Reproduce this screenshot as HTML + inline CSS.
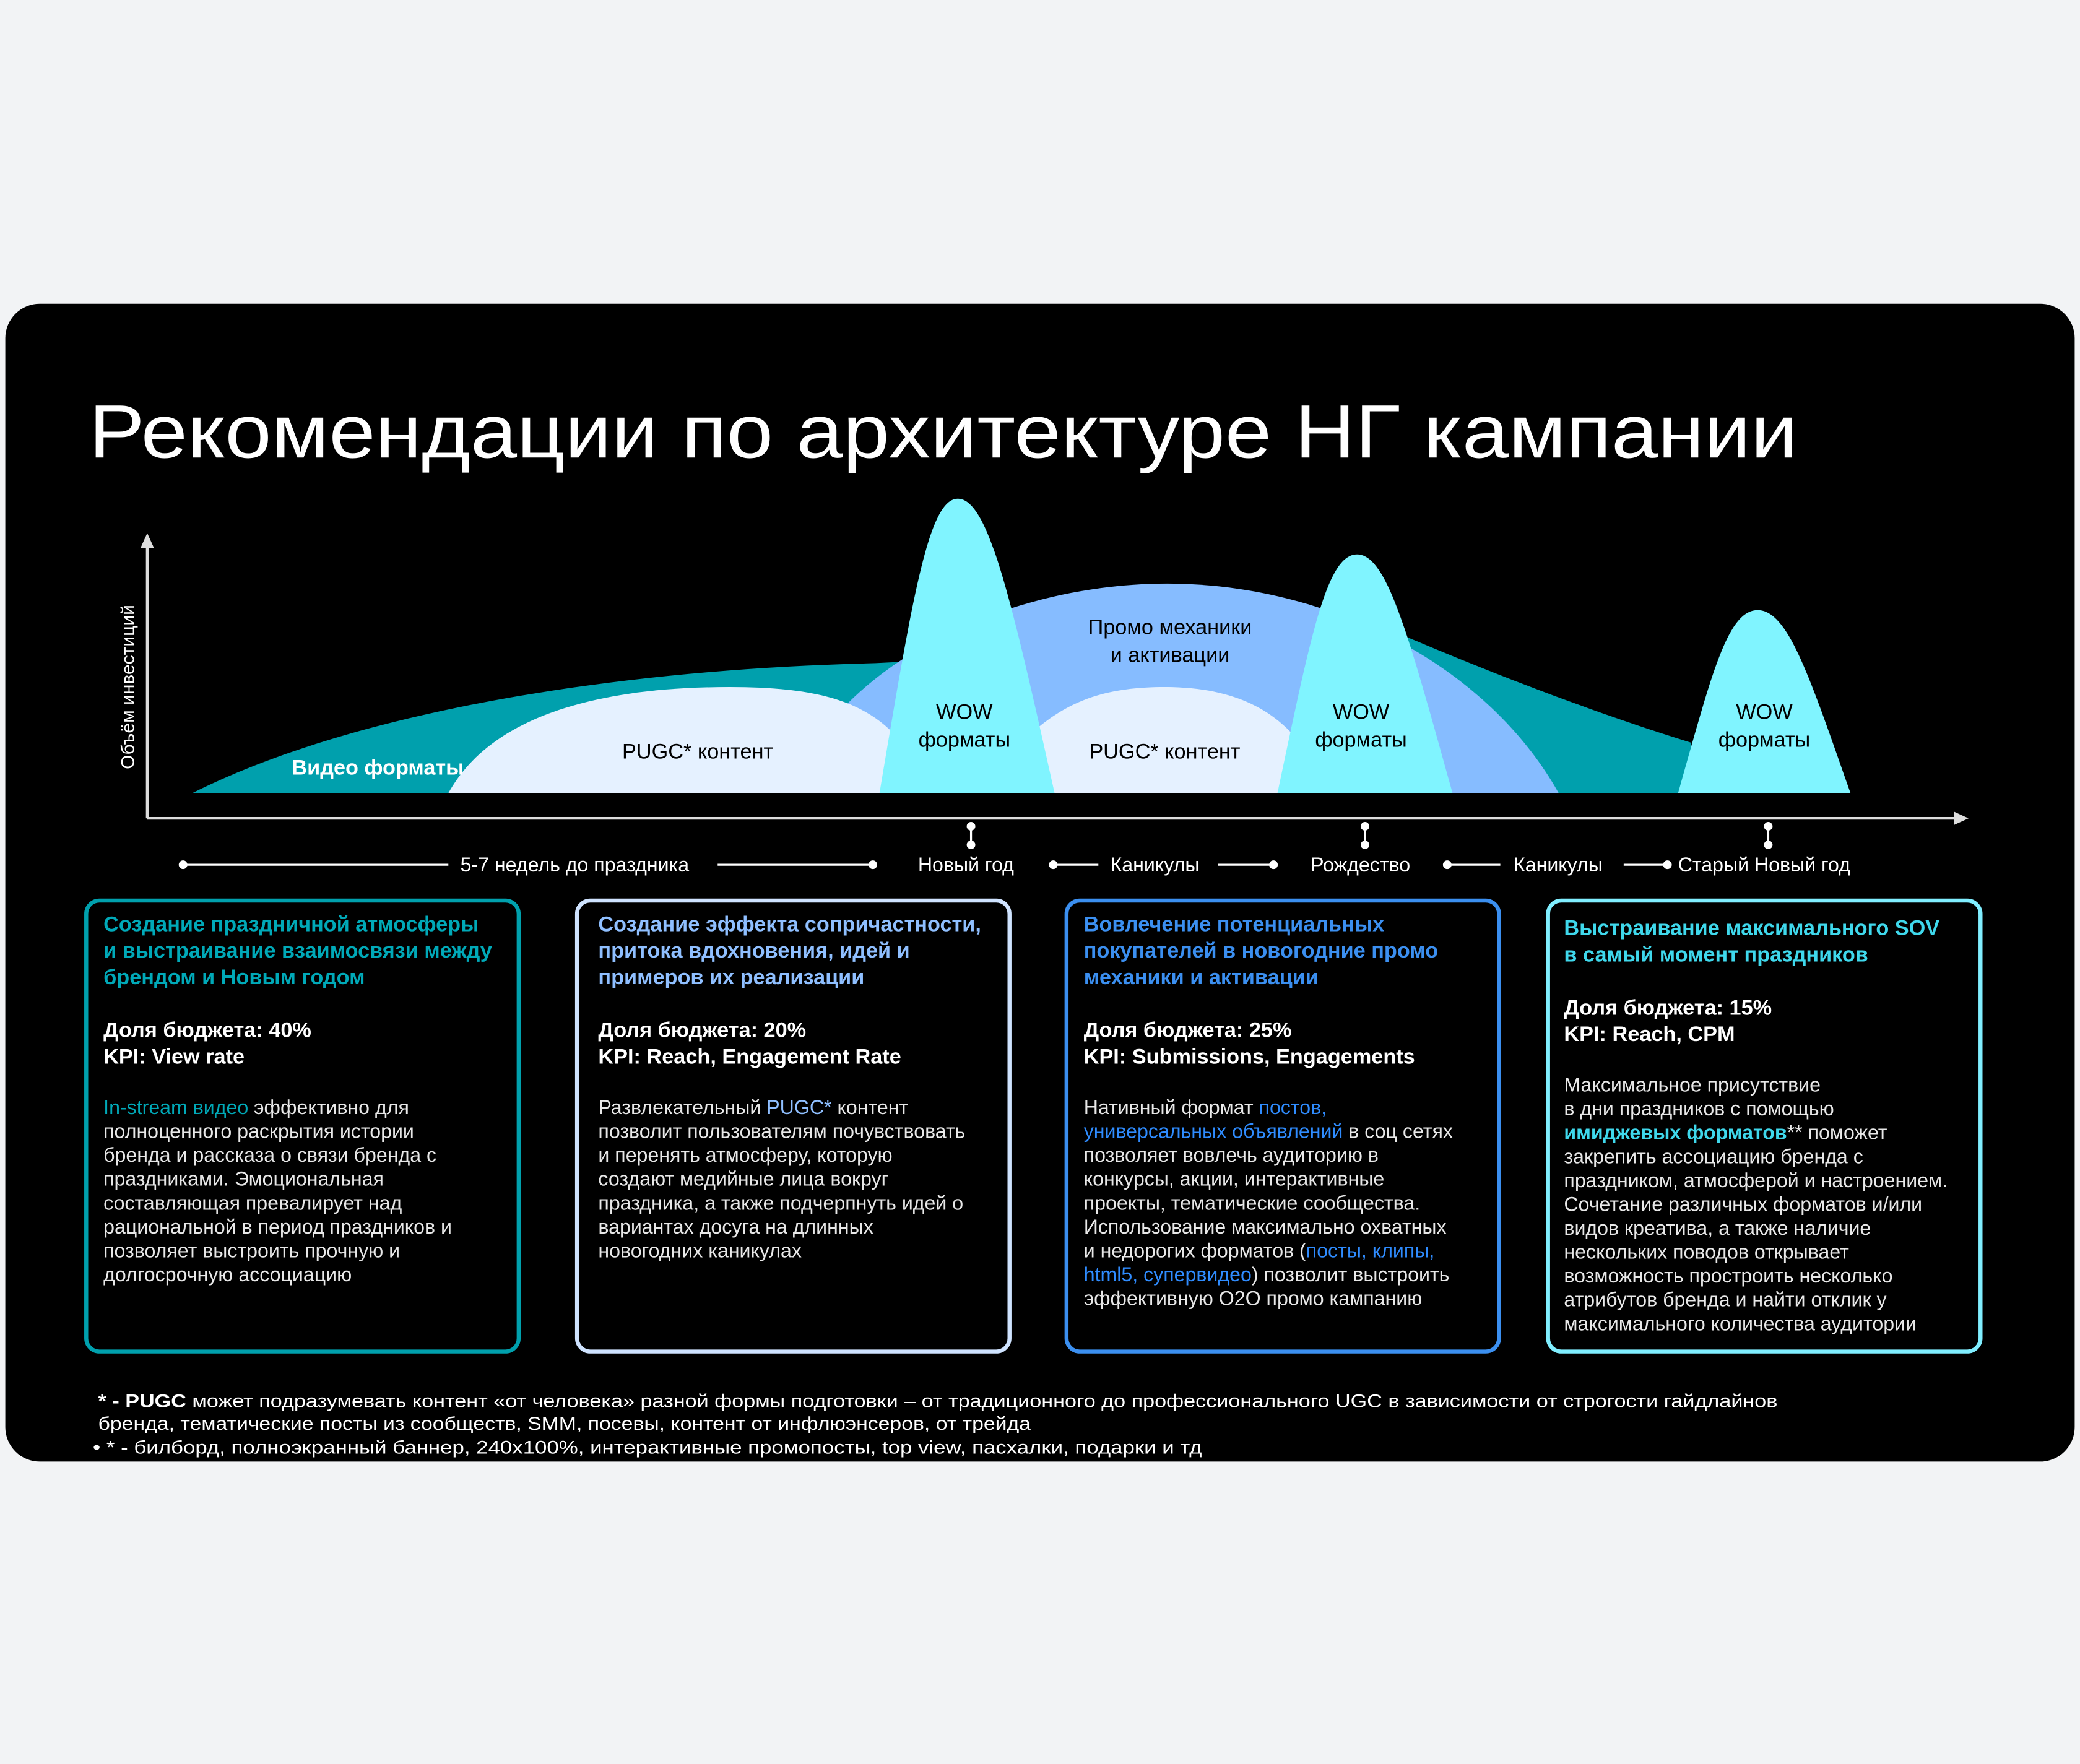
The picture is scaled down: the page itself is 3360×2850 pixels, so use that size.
<!DOCTYPE html>
<html><head><meta charset="utf-8"><style>
html,body{margin:0;padding:0;background:#f2f3f5;}
svg{display:block}
text{font-family:"Liberation Sans",sans-serif;}
.h{font-weight:bold;font-size:16px}
.b{font-size:15px;fill:#e8e8e8}
.k{font-weight:bold;font-size:16px;fill:#fff}
.t{font-size:15px;fill:#fff}
</style></head><body>
<svg width="3360" height="2850" viewBox="0 0 1568 1330" xmlns="http://www.w3.org/2000/svg">
<rect x="0" y="0" width="1568" height="1330" fill="#f2f3f5"/>
<rect x="4" y="229" width="1560" height="873" rx="26" fill="#000"/>
<text x="67" y="345" font-size="57" fill="#fff" font-weight="500" textLength="1288" lengthAdjust="spacingAndGlyphs">Рекомендации по архитектуре НГ кампании</text>

<path d="M145,598 C260,540 450,505 660,500 L1060,480 C1130,510 1210,540 1275,560 L1275,598 Z" fill="#00a0ad"/>
<path d="M595,598 C630,500 760,440 880,440 C1000,440 1120,500 1175,598 Z" fill="#86bcff"/>
<path d="M338,598 C370,540 450,518 550,518 C620,518 655,530 680,560 L680,598 Z" fill="#e5f1ff"/>
<path d="M770,598 L770,560 C800,530 830,518 878,518 C930,518 960,535 980,560 L980,598 Z" fill="#e5f1ff"/>
<path d="M663,598 C688,450 700,376 722,376 C745,376 762,450 795,598 Z" fill="#80f4ff"/>
<path d="M963,598 C988,480 1000,418 1023,418 C1046,418 1062,480 1095,598 Z" fill="#80f4ff"/>
<path d="M1265,598 C1290,510 1302,460 1325,460 C1348,460 1364,510 1395,598 Z" fill="#80f4ff"/>

<text x="220" y="584" font-size="16" font-weight="bold" fill="#fff">Видео форматы</text>
<g font-size="16" fill="#000" text-anchor="middle">
<text x="526" y="572">PUGC* контент</text>
<text x="878" y="572">PUGC* контент</text>
<text x="727" y="542">WOW</text><text x="727" y="563">форматы</text>
<text x="1026" y="542">WOW</text><text x="1026" y="563">форматы</text>
<text x="1330" y="542">WOW</text><text x="1330" y="563">форматы</text>
<text x="882" y="478">Промо механики</text><text x="882" y="499">и активации</text>
</g>

<line x1="111" y1="410" x2="111" y2="617" stroke="#ddd" stroke-width="2"/>
<path d="M106,413 L111,402 L116,413 Z" fill="#ddd"/>
<line x1="111" y1="617" x2="1476" y2="617" stroke="#ddd" stroke-width="2"/>
<path d="M1473,612 L1484,617 L1473,622 Z" fill="#ddd"/>
<text transform="translate(101,518) rotate(-90)" font-size="14" fill="#fff" text-anchor="middle">Объём инвестиций</text>

<g stroke="#fff" stroke-width="1.5" fill="#fff">
<line x1="732" y1="623" x2="732" y2="637"/><circle cx="732" cy="623" r="2.5"/><circle cx="732" cy="637" r="2.5"/>
<line x1="1029" y1="623" x2="1029" y2="637"/><circle cx="1029" cy="623" r="2.5"/><circle cx="1029" cy="637" r="2.5"/>
<line x1="1333" y1="623" x2="1333" y2="637"/><circle cx="1333" cy="623" r="2.5"/><circle cx="1333" cy="637" r="2.5"/>
<circle cx="138" cy="652" r="2.5"/><line x1="138" y1="652" x2="338" y2="652"/>
<line x1="541" y1="652" x2="658" y2="652"/><circle cx="658" cy="652" r="2.5"/>
<circle cx="794" cy="652" r="2.5"/><line x1="794" y1="652" x2="828" y2="652"/>
<line x1="918" y1="652" x2="960" y2="652"/><circle cx="960" cy="652" r="2.5"/>
<circle cx="1091" cy="652" r="2.5"/><line x1="1091" y1="652" x2="1131" y2="652"/>
<line x1="1224" y1="652" x2="1257" y2="652"/><circle cx="1257" cy="652" r="2.5"/>
</g>
<g font-size="15" fill="#fff">
<text x="347" y="657">5-7 недель до праздника</text>
<text x="692" y="657">Новый год</text>
<text x="837" y="657">Каникулы</text>
<text x="988" y="657">Рождество</text>
<text x="1141" y="657">Каникулы</text>
<text x="1265" y="657">Старый Новый год</text>
</g>

<rect x="65" y="679" width="326" height="340" rx="10" fill="none" stroke="#00a0ad" stroke-width="3"/>
<rect x="435" y="679" width="326" height="340" rx="10" fill="none" stroke="#cfe3ff" stroke-width="3"/>
<rect x="804" y="679" width="326" height="340" rx="10" fill="none" stroke="#3b8ff0" stroke-width="3"/>
<rect x="1167" y="679" width="326" height="340" rx="10" fill="none" stroke="#80eeff" stroke-width="3"/>

<text x="78" y="702" class="h" fill="#00a9b8">Создание праздничной атмосферы</text>
<text x="78" y="722" class="h" fill="#00a9b8">и выстраивание взаимосвязи между</text>
<text x="78" y="742" class="h" fill="#00a9b8">брендом и Новым годом</text>
<text x="78" y="782" class="k">Доля бюджета: 40%</text>
<text x="78" y="802" class="k">KPI: View rate</text>
<text x="78" y="840" class="b"><tspan fill="#00a9b8">In-stream видео</tspan> эффективно для</text>
<text x="78" y="858" class="b">полноценного раскрытия истории</text>
<text x="78" y="876" class="b">бренда и рассказа о связи бренда с</text>
<text x="78" y="894" class="b">праздниками. Эмоциональная</text>
<text x="78" y="912" class="b">составляющая превалирует над</text>
<text x="78" y="930" class="b">рациональной в период праздников и</text>
<text x="78" y="948" class="b">позволяет выстроить прочную и</text>
<text x="78" y="966" class="b">долгосрочную ассоциацию</text>

<text x="451" y="702" class="h" fill="#8fbfff">Создание эффекта сопричастности,</text>
<text x="451" y="722" class="h" fill="#8fbfff">притока вдохновения,  идей  и</text>
<text x="451" y="742" class="h" fill="#8fbfff">примеров их реализации</text>
<text x="451" y="782" class="k">Доля бюджета: 20%</text>
<text x="451" y="802" class="k">KPI: Reach, Engagement Rate</text>
<text x="451" y="840" class="b">Развлекательный <tspan fill="#8fbfff">PUGC*</tspan> контент</text>
<text x="451" y="858" class="b">позволит пользователям почувствовать</text>
<text x="451" y="876" class="b">и перенять атмосферу, которую</text>
<text x="451" y="894" class="b">создают медийные лица вокруг</text>
<text x="451" y="912" class="b">праздника, а также подчерпнуть идей о</text>
<text x="451" y="930" class="b">вариантах досуга на длинных</text>
<text x="451" y="948" class="b">новогодних каникулах</text>

<text x="817" y="702" class="h" fill="#3b8ff0">Вовлечение потенциальных</text>
<text x="817" y="722" class="h" fill="#3b8ff0">покупателей в новогодние промо</text>
<text x="817" y="742" class="h" fill="#3b8ff0">механики и активации</text>
<text x="817" y="782" class="k">Доля бюджета: 25%</text>
<text x="817" y="802" class="k">KPI: Submissions, Engagements</text>
<text x="817" y="840" class="b">Нативный формат <tspan fill="#2f8cff">постов,</tspan></text>
<text x="817" y="858" class="b"><tspan fill="#2f8cff">универсальных объявлений</tspan> в соц сетях</text>
<text x="817" y="876" class="b">позволяет вовлечь аудиторию в</text>
<text x="817" y="894" class="b">конкурсы, акции, интерактивные</text>
<text x="817" y="912" class="b">проекты, тематические сообщества.</text>
<text x="817" y="930" class="b">Использование максимально охватных</text>
<text x="817" y="948" class="b">и недорогих форматов (<tspan fill="#2f8cff">посты, клипы,</tspan></text>
<text x="817" y="966" class="b"><tspan fill="#2f8cff">html5, супервидео</tspan>) позволит выстроить</text>
<text x="817" y="984" class="b">эффективную O2O промо кампанию</text>

<text x="1179" y="705" class="h" fill="#3fd8ec">Выстраивание максимального SOV</text>
<text x="1179" y="725" class="h" fill="#3fd8ec">в самый момент праздников</text>
<text x="1179" y="765" class="k">Доля бюджета: 15%</text>
<text x="1179" y="785" class="k">KPI: Reach, CPM</text>
<text x="1179" y="823" class="b">Максимальное присутствие</text>
<text x="1179" y="841" class="b">в дни праздников с помощью</text>
<text x="1179" y="859" class="b"><tspan fill="#3fd8ec" font-weight="bold">имиджевых форматов</tspan>** поможет</text>
<text x="1179" y="877" class="b">закрепить ассоциацию бренда с</text>
<text x="1179" y="895" class="b">праздником, атмосферой и настроением.</text>
<text x="1179" y="913" class="b">Сочетание различных форматов и/или</text>
<text x="1179" y="931" class="b">видов креатива, а также наличие</text>
<text x="1179" y="949" class="b">нескольких поводов открывает</text>
<text x="1179" y="967" class="b">возможность простроить несколько</text>
<text x="1179" y="985" class="b">атрибутов бренда и найти отклик у</text>
<text x="1179" y="1003" class="b">максимального количества аудитории</text>

<g font-size="14" fill="#fff">
<text x="74" y="1061" textLength="1266" lengthAdjust="spacingAndGlyphs"><tspan font-weight="bold">* - PUGC</tspan> может подразумевать контент «от человека» разной формы подготовки – от традиционного до профессионального UGC в зависимости от строгости гайдлайнов</text>
<text x="74" y="1078" textLength="703" lengthAdjust="spacingAndGlyphs">бренда, тематические посты из сообществ, SMM, посевы, контент от инфлюэнсеров, от трейда</text>
<text x="70" y="1096" textLength="836" lengthAdjust="spacingAndGlyphs">•    * - билборд, полноэкранный баннер, 240x100%, интерактивные промопосты, top view, пасхалки,  подарки и тд</text>
</g>
</svg>
</body></html>
